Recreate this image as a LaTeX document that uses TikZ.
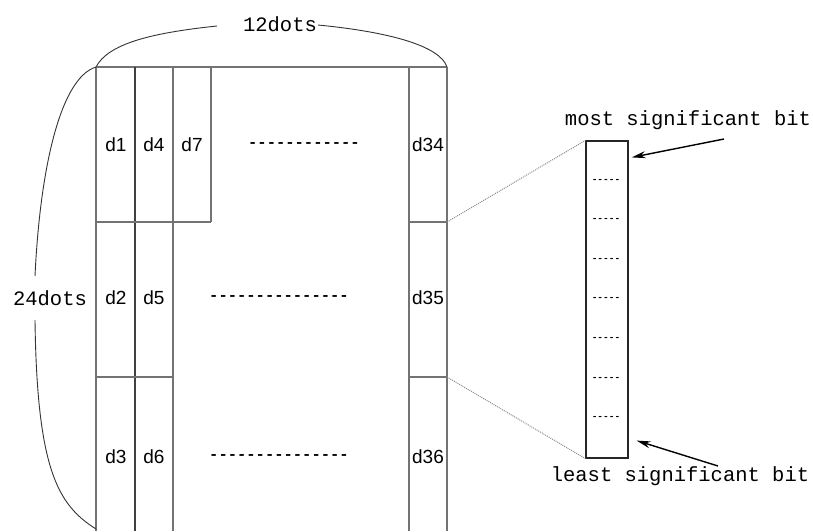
\documentclass[tikz,border=0pt]{standalone}
\usepackage{fontspec}
\setsansfont{Liberation Sans}
\setmonofont{Liberation Mono}
\usetikzlibrary{positioning,arrows.meta}
\begin{document}
\begin{tikzpicture}[x=1pt,y=-1pt,
  % dot matrix: grey cell rules, sans cell names, mono filler dashes
  cell/.style={draw=black!55, line width=1.3pt},
  lbl/.style={font=\fontsize{19}{19}\sffamily, inner sep=0pt},
  fill dashes/.style={font=\fontsize{15.5}{15.5}\ttfamily\bfseries, inner sep=0pt},
  % one column byte blown up on the right
  bitbox/.style={draw=black!85, line width=1.2pt, minimum width=42pt,
                 minimum height=317pt, inner sep=0pt},
  bitmark/.style={font=\fontsize{9.5}{9.5}\ttfamily\bfseries, inner sep=0pt},
  % callouts
  note/.style={font=\fontsize{20.5}{20.5}\ttfamily, inner sep=0pt},
  brace/.style={draw=black!80, line width=0.9pt},
  zoomline/.style={draw=black!45, densely dotted, line width=1pt},
  pointer/.style={-{Stealth[length=14pt,width=7pt]}, line width=1.4pt},
  ]
  \useasboundingbox (0,0) rectangle (813,531);
  % ---- cell rules (matrix runs off the bottom edge) -------------------------------
  \draw[cell] (96,67) -- (447,67);
  \draw[cell] (96,67) -- (96,531);
  \draw[cell, draw=black!75] (135,67) -- (135,531);
  \draw[cell] (173,67) -- (173,531);
  \draw[cell] (211,67) -- (211,222);
  \draw[cell] (409,67) -- (409,531);
  \draw[cell] (447,67) -- (447,531);
  \draw[cell] (96,222) -- (211,222);
  \draw[cell] (96,377) -- (173,377);
  \draw[cell] (409,222) -- (447,222);
  \draw[cell] (409,377) -- (447,377);
  \coordinate (d34 corner) at (447,222);
  \coordinate (d35 corner) at (447,377);
  % ---- cell names --------------------------------------------------------------
  \node[lbl] (d1)  at (116,145) {d1};
  \node[lbl] (d4)  at (154,145) {d4};
  \node[lbl] (d7)  at (192,145) {d7};
  \node[fill dashes] (row1) at (304,145) {------------};
  \node[lbl] (d34) at (428,145) {d34};
  \node[lbl] (d2)  at (116,298) {d2};
  \node[lbl] (d5)  at (154,298) {d5};
  \node[fill dashes] (row2) at (279,298) {---------------};
  \node[lbl] (d35) at (428,298) {d35};
  \node[lbl] (d3)  at (116,457) {d3};
  \node[lbl] (d6)  at (154,457) {d6};
  \node[fill dashes] (row3) at (279,457) {---------------};
  \node[lbl] (d36) at (428,457) {d36};
  % ---- size braces (broken round their labels) -----------------------------------
  \node[note] (width) at (280,24) {12dots};
  \node[note] (height) at (50,298) {24dots};
  \coordinate (w left)  at (217,26);
  \coordinate (w right) at (318,25);
  \coordinate (h top)    at (35,276);
  \coordinate (h bottom) at (35,320);
  \draw[brace] (96,67) .. controls (108,44) and (150,33) .. (w left);
  \draw[brace] (w right) .. controls (390,32) and (440,46) .. (447,67);
  \draw[brace] (96,67) .. controls (60,78) and (40,170) .. (h top);
  \draw[brace] (h bottom) .. controls (37,470) and (58,505) .. (96,529);
  % ---- byte of column d34 ------------------------------------------------------
  \node[bitbox] (bits) at (607,299.5) {};
  \foreach \i in {1,...,7}
    \node[bitmark] (mark\i) at (606,{141+\i*39.6}) {-----};
  \draw[zoomline] (d34 corner) -- (bits.north west);
  \draw[zoomline] (d35 corner) -- (bits.south west);
  \node[note] (msb) at (688,120) {most significant bit};
  \node[note] (lsb) at (680,476) {least significant bit};
  \coordinate (msb tail) at (724,139);
  \coordinate (lsb tail) at (718,466);
  \draw[pointer] (msb tail) -- ([shift={(3,17)}]bits.north east);
  \draw[pointer] (lsb tail) -- ([shift={(8,-18)}]bits.south east);
\end{tikzpicture}
\end{document}
